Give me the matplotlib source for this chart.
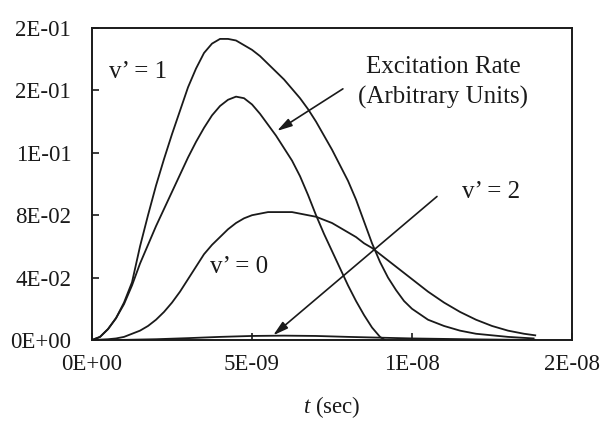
import matplotlib
matplotlib.use("Agg")
import matplotlib.pyplot as plt
import numpy as np

plt.rcParams['font.family'] = ['Liberation Serif', 'DejaVu Serif']
plt.rcParams['mathtext.fontset'] = 'custom'
plt.rcParams['mathtext.rm'] = 'Liberation Serif'
plt.rcParams['mathtext.it'] = 'Liberation Serif:italic'

# v' = 1 (tallest curve), time in ns
t_v1 = [0, 0.25, 0.5, 0.75, 1.0, 1.25, 1.5, 1.75, 2.0, 2.25, 2.5, 2.75, 3.0, 3.25,
        3.5, 3.75, 4.0, 4.25, 4.5, 4.75, 5.0, 5.25, 5.5, 5.75, 6.0, 6.25, 6.5, 6.75,
        7.0, 7.25, 7.5, 7.75, 8.0, 8.25, 8.5, 8.75, 9.0, 9.25, 9.5, 9.75, 10.0, 10.5,
        11.0, 11.5, 12.0, 12.5, 13.0, 13.8]
y_v1 = [0, 0.002, 0.007, 0.014, 0.024, 0.037, 0.060, 0.080, 0.099, 0.116, 0.132,
        0.147, 0.162, 0.174, 0.184, 0.190, 0.193, 0.193, 0.192, 0.189, 0.186, 0.182,
        0.177, 0.172, 0.167, 0.161, 0.155, 0.148, 0.140, 0.131, 0.122, 0.112, 0.102,
        0.090, 0.076, 0.062, 0.050, 0.040, 0.032, 0.025, 0.020, 0.013, 0.009, 0.006,
        0.004, 0.003, 0.002, 0.001]

# excitation rate (arbitrary units)
t_exc = [0, 0.25, 0.5, 0.75, 1.0, 1.25, 1.5, 1.75, 2.0, 2.25, 2.5, 2.75, 3.0, 3.25,
         3.5, 3.75, 4.0, 4.25, 4.5, 4.75, 5.0, 5.25, 5.5, 5.75, 6.0, 6.25, 6.5, 6.75,
         7.0, 7.25, 7.5, 7.75, 8.0, 8.25, 8.5, 8.75, 9.0, 9.15]
y_exc = [0, 0.002, 0.007, 0.014, 0.023, 0.035, 0.049, 0.061, 0.073, 0.084, 0.095,
         0.106, 0.117, 0.127, 0.136, 0.144, 0.150, 0.154, 0.156, 0.155, 0.151, 0.145,
         0.138, 0.131, 0.123, 0.115, 0.105, 0.093, 0.080, 0.068, 0.057, 0.046, 0.035,
         0.025, 0.016, 0.008, 0.002, 0.0]

# v' = 0
t_v0 = [0, 0.5, 0.75, 1.0, 1.25, 1.5, 1.75, 2.0, 2.25, 2.5, 2.75, 3.0, 3.25, 3.5,
        3.75, 4.0, 4.25, 4.5, 4.75, 5.0, 5.25, 5.5, 5.75, 6.0, 6.25, 6.5, 6.75, 7.0,
        7.25, 7.5, 7.75, 8.0, 8.25, 8.5, 8.75, 9.0, 9.5, 10.0, 10.5, 11.0, 11.5, 12.0,
        12.5, 13.0, 13.5, 13.85]
y_v0 = [0, 0.0005, 0.001, 0.002, 0.004, 0.006, 0.009, 0.013, 0.018, 0.024, 0.031,
        0.039, 0.047, 0.055, 0.061, 0.066, 0.071, 0.075, 0.078, 0.080, 0.081, 0.082,
        0.082, 0.082, 0.082, 0.081, 0.080, 0.079, 0.077, 0.075, 0.072, 0.069, 0.066,
        0.062, 0.059, 0.055, 0.047, 0.039, 0.031, 0.024, 0.018, 0.013, 0.009, 0.006,
        0.004, 0.003]

# v' = 2 (almost flat)
t_v2 = [0, 1, 2, 3, 4, 5, 6, 7, 8, 9, 10, 11, 12, 13, 13.85]
y_v2 = [0, 0.0001, 0.0005, 0.0012, 0.002, 0.0026, 0.0028, 0.0026, 0.002, 0.0015,
        0.001, 0.0007, 0.0004, 0.0002, 0.0001]

x_ticks = [0, 5e-9, 1e-8, 1.5e-8]
x_ticklabels = ['0E+00', '5E-09', '1E-08', '2E-08']
y_ticks = [0, 0.04, 0.08, 0.12, 0.16, 0.20]
y_ticklabels = ['0E+00', '4E-02', '8E-02', '1E-01', '2E-01', '2E-01']

fig = plt.figure(figsize=(6.01, 4.23), dpi=100)
ax = fig.add_axes([0.1531, 0.1962, 0.7987, 0.7376])

for t, y in [(t_v1, y_v1), (t_exc, y_exc), (t_v0, y_v0), (t_v2, y_v2)]:
    ax.plot(np.array(t) * 1e-9, y, color='#1a1a1a', lw=1.3)

ax.set_xlim(0, 1.5e-8)
ax.set_ylim(0, 0.2)
ax.set_xticks(x_ticks)
ax.set_xticklabels(x_ticklabels)
ax.set_yticks(y_ticks)
ax.set_yticklabels(y_ticklabels)
ax.tick_params(axis='both', direction='in', length=5, width=1.2, labelsize=16.5,
               color='#1a1a1a', labelcolor='#1a1a1a')
ax.tick_params(axis='y', pad=15)
ax.tick_params(axis='x', pad=10)
for s in ax.spines.values():
    s.set_linewidth(1.4)
    s.set_color('#1a1a1a')

ax.set_xlabel(r'$t$ (sec)', fontsize=16.5, labelpad=14, color='#1a1a1a')

txt = dict(fontsize=18, color='#1a1a1a', ha='center', va='center')
ax.text(1.44e-9, 0.172, 'v\u2019 = 1', **txt)
ax.text(4.6e-9, 0.047, 'v\u2019 = 0', **txt)
ax.text(12.47e-9, 0.095, 'v\u2019 = 2', **txt)
ax.text(10.97e-9, 0.165, 'Excitation Rate\n(Arbitrary Units)', linespacing=1.45, **txt)

arrow = dict(arrowstyle='-|>,head_length=0.9,head_width=0.25', color='#1a1a1a',
             lw=1.2, shrinkA=0, shrinkB=0)
ax.annotate('', xy=(5.78e-9, 0.134), xytext=(7.84e-9, 0.161), arrowprops=arrow)
ax.annotate('', xy=(5.66e-9, 0.003), xytext=(10.78e-9, 0.092), arrowprops=arrow)

fig.savefig('out.png', dpi=100)
